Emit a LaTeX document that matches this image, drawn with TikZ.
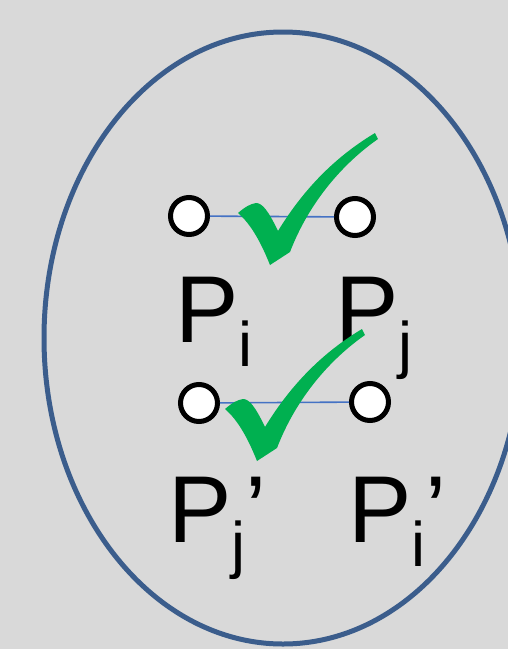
\documentclass[tikz,border=0pt]{standalone}
\usepackage{fontspec}
\setmainfont{Liberation Sans}
\definecolor{bg}{RGB}{217,217,217}
\definecolor{ringblue}{RGB}{59,93,140}
\definecolor{linkblue}{RGB}{68,114,196}
\definecolor{checkgreen}{RGB}{0,176,80}
\newcommand\lowsub[1]{\raisebox{-24pt}{\fontsize{63pt}{63pt}\selectfont #1}}
\tikzset{
  lbl/.style={anchor=base west,inner sep=0pt,outer sep=0pt,font=\fontsize{95pt}{95pt}\selectfont},
  dot/.style={circle,draw=black,line width=5pt,fill=white,minimum size=37pt,inner sep=0pt},
  link/.style={draw=linkblue,line width=1.6pt},
  ring/.style={draw=ringblue,line width=5pt},
  checkfill/.style={fill=checkgreen,draw=none}
}
\begin{document}
\begin{tikzpicture}[x=1pt,y=-1pt]
\useasboundingbox (0,0) rectangle (508,649);
\clip (0,0) rectangle (508,649);
\fill[bg] (0,0) rectangle (508,649);
\draw[ring] (283,338) ellipse [x radius=239, y radius=306];
% top pair
\node[dot] (a1) at (189,216) {};
\node[dot] (b1) at (355,217) {};
\draw[link] (a1) -- (b1);
% bottom pair
\node[dot] (a2) at (199,403) {};
\node[dot] (b2) at (370,402) {};
\draw[link] (a2) -- (b2);
% labels
\node[lbl] (pi) at (175,342) {P\lowsub{i}};
\node[lbl] (pj) at (335,342) {P\lowsub{j}};
\node[lbl] (pjp) at (168,542) {P\lowsub{j}’};
\node[lbl] (pip) at (348,542) {P\lowsub{i}’};
% check marks
\foreach \dx/\dy in {0/0,-13/196}{
  \begin{scope}[shift={(\dx,\dy)}]
  \fill[checkfill] (238,213) .. controls (245,207) and (250,204) .. (256,203)
    .. controls (262,203) and (268,210) .. (278,231)
    .. controls (300,195) and (330,160) .. (375,133) -- (378,139)
    .. controls (345,162) and (310,200) .. (290,252) -- (270,265)
    .. controls (262,245) and (252,225) .. (238,213) -- cycle;
  \end{scope}
}
\end{tikzpicture}
\end{document}
